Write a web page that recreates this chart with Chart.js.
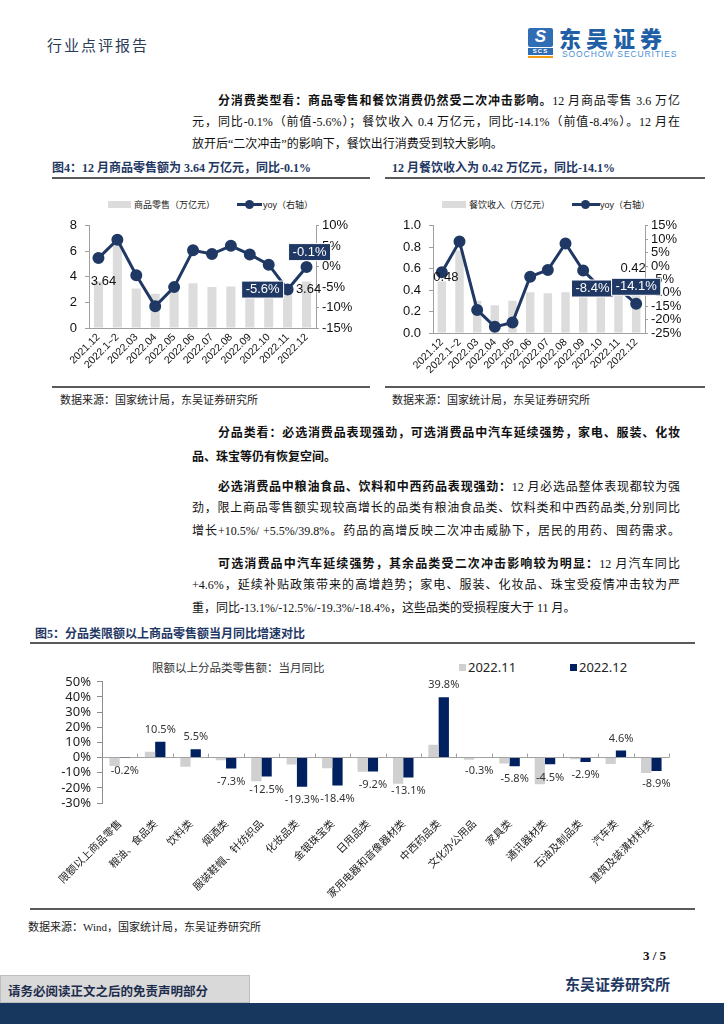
<!DOCTYPE html>
<html lang="zh-CN">
<head>
<meta charset="utf-8">
<title>行业点评报告</title>
<script src="https://cdn.jsdelivr.net/npm/chart.js@4.4.1/dist/chart.umd.min.js"></script>
<style>
  * { margin: 0; padding: 0; box-sizing: border-box; }
  body { width: 724px; height: 1024px; position: relative; background: #fff; overflow: hidden;
         font-family: 'Liberation Serif', 'Noto Sans CJK SC', serif; color: #111; }
  .abs { position: absolute; white-space: nowrap; }
  .ln { position: absolute; left: 192px; width: 488px; height: 23px; line-height: 23px; font-size: 12px;
        text-align: justify; text-align-last: justify; }
  .ln.first { left: 218px; width: 462px; }
  .ln.end { text-align-last: left; }
  .ln b { font-family: 'Noto Sans CJK SC', sans-serif; font-weight: 700; }
  .ftitle { font-size: 12px; font-weight: bold; color: #1f3864; font-family: 'Liberation Serif', 'Noto Sans CJK SC', serif; }
  .rule { position: absolute; height: 2px; background: #5a5a5a; }
  .src { font-size: 11px; color: #222; }
  .lg { font-family: 'Liberation Sans', 'Noto Sans CJK SC', sans-serif; font-size: 9px; color: #222; }
  canvas { position: absolute; }
</style>
</head>
<body>

<!-- 页眉 -->
<div class="abs" style="left:47px; top:34px; font-size:15px; letter-spacing:2px; color:#2b3a55;">行业点评报告</div>
<div class="abs" style="left:528px; top:28px; width:25px; height:19px; background:#2f6db5; border-radius:2px;"></div>
<div class="abs" style="left:528px; top:26px; width:25px; height:21px; color:#fff; font:italic 900 17px/21px 'Liberation Sans', sans-serif; text-align:center;">S</div>
<div class="abs" style="left:528px; top:48px; width:25px; height:7px; background:#2f6db5; color:#fff; font:bold 6px/7px 'Liberation Sans', sans-serif; text-align:center; letter-spacing:1px;">SCS</div>
<div class="abs" style="left:528px; top:56px; width:25px; height:2px; background:#f39c12;"></div>
<div class="abs" style="left:559px; top:24px; font:900 22px/26px 'Noto Sans CJK SC', sans-serif; letter-spacing:5px; color:#1f5fa6;">东吴证券</div>
<div class="abs" style="left:562px; top:49px; font:8.5px/10px 'Liberation Sans', sans-serif; letter-spacing:0.9px; color:#4a8fd6;">SOOCHOW SECURITIES</div>

<!-- 正文 1 -->
<div class="ln first" style="top:88px;"><b>分消费类型看：商品零售和餐饮消费仍然受二次冲击影响。</b>12 月商品零售 3.6 万亿</div>
<div class="ln" style="top:111px;">元，同比-0.1%（前值-5.6%）；餐饮收入 0.4 万亿元，同比-14.1%（前值-8.4%）。12 月在</div>
<div class="ln end" style="top:133px;">放开后“二次冲击”的影响下，餐饮出行消费受到较大影响。</div>

<!-- 图4 / 餐饮 -->
<div class="abs ftitle" style="left:52px; top:158px;">图4：12 月商品零售额为 3.64 万亿元，同比-0.1%</div>
<div class="rule" style="left:52px; top:177px; width:318px;"></div>
<div class="abs ftitle" style="left:392px; top:158px;">12 月餐饮收入为 0.42 万亿元，同比-14.1%</div>
<div class="rule" style="left:385px; top:177px; width:320px;"></div>

<div class="abs" style="left:108px; top:201px; width:23px; height:7px; background:#dcdcdc;"></div>
<div class="abs lg" style="left:134px; top:198px;">商品零售（万亿元）</div>
<div class="abs" style="left:237px; top:203px; width:25px; height:3px; background:#1f3864;"></div>
<div class="abs" style="left:245px; top:200px; width:9px; height:9px; border-radius:50%; background:#1f3864;"></div>
<div class="abs lg" style="left:263px; top:198px;">yoy（右轴）</div>

<div class="abs" style="left:442px; top:201px; width:24px; height:7px; background:#dcdcdc;"></div>
<div class="abs lg" style="left:469px; top:198px;">餐饮收入（万亿元）</div>
<div class="abs" style="left:572px; top:203px; width:28px; height:3px; background:#1f3864;"></div>
<div class="abs" style="left:581px; top:200px; width:9px; height:9px; border-radius:50%; background:#1f3864;"></div>
<div class="abs lg" style="left:600px; top:198px;">yoy（右轴）</div>

<canvas id="goodsChart" width="340" height="175" style="left:40px; top:210px;"></canvas>
<canvas id="cateringChart" width="330" height="175" style="left:380px; top:210px;"></canvas>

<div class="rule" style="left:52px; top:386px; width:318px;"></div>
<div class="rule" style="left:385px; top:386px; width:320px;"></div>
<div class="abs src" style="left:60px; top:391px;">数据来源：国家统计局，东吴证券研究所</div>
<div class="abs src" style="left:392px; top:391px;">数据来源：国家统计局，东吴证券研究所</div>

<!-- 正文 2 -->
<div class="ln first" style="top:420px;"><b>分品类看：必选消费品表现强劲，可选消费品中汽车延续强势，家电、服装、化妆</b></div>
<div class="ln end" style="top:444px;"><b>品、珠宝等仍有恢复空间。</b></div>

<div class="ln first" style="top:474px;"><b>必选消费品中粮油食品、饮料和中西药品表现强劲：</b>12 月必选品整体表现都较为强</div>
<div class="ln" style="top:497px;">劲，限上商品零售额实现较高增长的品类有粮油食品类、饮料类和中西药品类,分别同比</div>
<div class="ln" style="top:520px;">增长+10.5%/ +5.5%/39.8%。药品的高增反映二次冲击威胁下，居民的用药、囤药需求。</div>

<div class="ln first" style="top:551px;"><b>可选消费品中汽车延续强势，其余品类受二次冲击影响较为明显：</b>12 月汽车同比</div>
<div class="ln" style="top:574px;">+4.6%，延续补贴政策带来的高增趋势；家电、服装、化妆品、珠宝受疫情冲击较为严</div>
<div class="ln end" style="top:597px;">重，同比-13.1%/-12.5%/-19.3%/-18.4%，这些品类的受损程度大于 11 月。</div>

<!-- 图5 -->
<div class="abs ftitle" style="left:35px; top:624px;">图5：分品类限额以上商品零售额当月同比增速对比</div>
<div class="rule" style="left:30px; top:642px; width:665px;"></div>
<div class="abs" style="left:152px; top:659px; font:11.5px 'Noto Sans CJK SC', sans-serif; color:#333;">限额以上分品类零售额：当月同比</div>
<div class="abs" style="left:459px; top:664px; width:7px; height:7px; background:#d0d0d0;"></div>
<div class="abs" style="left:468px; top:658px; font:13px 'Noto Sans', sans-serif; color:#222;">2022.11</div>
<div class="abs" style="left:570px; top:664px; width:7px; height:7px; background:#002060;"></div>
<div class="abs" style="left:579px; top:658px; font:13px 'Noto Sans', sans-serif; color:#222;">2022.12</div>

<canvas id="categoryChart" width="660" height="236" style="left:30px; top:668px;"></canvas>

<div class="rule" style="left:30px; top:908px; width:665px;"></div>
<div class="abs src" style="left:28px; top:918px;">数据来源：Wind，国家统计局，东吴证券研究所</div>

<!-- 页脚 -->
<div class="abs" style="left:643px; top:948px; font:bold 13px 'Liberation Serif', serif;">3 / 5</div>
<div class="abs" style="left:565px; top:973px; font:bold 15px 'Noto Sans CJK SC', sans-serif; color:#1f3864;">东吴证券研究所</div>
<div class="abs" style="left:0; top:975px; width:250px; height:28px; background:#d9d9d9; border:1px solid #bdbdbd;"></div>
<div class="abs" style="left:8px; top:981px; font:bold 12.5px 'Noto Sans CJK SC', sans-serif; color:#1f2d4d;">请务必阅读正文之后的免责声明部分</div>
<div class="abs" style="left:0; top:1003px; width:724px; height:21px; background:#17375e;"></div>

<script>
// 图4：商品零售
const months = ['2021.12', '2022.1~2', '2022.03', '2022.04', '2022.05', '2022.06',
                '2022.07', '2022.08', '2022.09', '2022.10', '2022.11', '2022.12'];
const goodsRetail = [3.64, 6.88, 3.10, 2.69, 3.00, 3.50, 3.20, 3.25, 3.30, 3.30, 3.40, 3.64];
const goodsYoy = [2.1, 6.6, -2.1, -9.7, -5.0, 4.0, 3.1, 5.1, 3.0, 0.5, -5.6, -0.1];

// 餐饮收入
const cateringIncome = [0.48, 0.77, 0.30, 0.26, 0.30, 0.38, 0.37, 0.38, 0.38, 0.37, 0.36, 0.42];
const cateringYoy = [-2.3, 9.1, -16.4, -22.7, -21.1, -4.0, -1.5, 8.4, -1.7, -8.1, -8.4, -14.1];

// 图5：分品类当月同比
const categories = ['限额以上商品零售', '粮油、食品类', '饮料类', '烟酒类', '服装鞋帽、针纺织品',
                    '化妆品类', '金银珠宝类', '日用品类', '家用电器和音像器材类', '中西药品类',
                    '文化办公用品', '家具类', '通讯器材类', '石油及制品类', '汽车类', '建筑及装潢材料类'];
const yoyNov = [-5.6, 3.8, -6.1, -1.7, -15.6, -4.6, -7.1, -9.3, -17.3, 8.4, -1.5, -4.0, -17.7, -1.2, -4.2, -10.2];
const yoyDec = [-0.2, 10.5, 5.5, -7.3, -12.5, -19.3, -18.4, -9.2, -13.1, 39.8, -0.3, -5.8, -4.5, -2.9, 4.6, -8.9];

const NAVY = '#1f3864';
const DEEP = '#002060';
const AXIS = '#a0a0a0';
const SANS = "'Liberation Sans', 'Noto Sans CJK SC', sans-serif";

// 在指定数据点旁写数值（可选深蓝底框）
const markLabels = {
    id: 'markLabels',
    afterDatasetsDraw(chart, args, opts) {
        const ctx = chart.ctx;
        (opts.items || []).forEach(it => {
            const el = chart.getDatasetMeta(it.dataset).data[it.index];
            const v = chart.data.datasets[it.dataset].data[it.index];
            const text = it.fmt(v);
            const x = el.x + (it.dx || 0);
            const y = el.y + (it.dy || 0);
            ctx.save();
            ctx.font = opts.font;
            ctx.textAlign = 'center';
            ctx.textBaseline = 'middle';
            if (it.box) {
                const w = ctx.measureText(text).width + 8;
                ctx.fillStyle = NAVY;
                ctx.fillRect(x - w / 2, y - 8.5, w, 17);
                ctx.strokeStyle = '#ffffff';
                ctx.lineWidth = 1;
                ctx.strokeRect(x - w / 2, y - 8.5, w, 17);
                ctx.fillStyle = '#ffffff';
            } else {
                ctx.fillStyle = '#111';
            }
            ctx.fillText(text, x, y);
            ctx.restore();
        });
    }
};

// 图5 的零轴与分类刻度、12 月数值
const zeroAxis = {
    id: 'zeroAxis',
    beforeDatasetsDraw(chart) {
        const { ctx, chartArea, scales } = chart;
        const y0 = scales.y.getPixelForValue(0);
        const step = (chartArea.right - chartArea.left) / categories.length;
        ctx.save();
        ctx.strokeStyle = AXIS;
        ctx.lineWidth = 1;
        ctx.beginPath();
        ctx.moveTo(chartArea.left, y0);
        ctx.lineTo(chartArea.right, y0);
        for (let i = 1; i <= categories.length; i++) {
            const x = Math.round(chartArea.left + step * i) + 0.5;
            ctx.moveTo(x, y0);
            ctx.lineTo(x, y0 - 4);
        }
        ctx.stroke();
        ctx.restore();
    },
    afterDatasetsDraw(chart) {
        const ctx = chart.ctx;
        const meta = chart.getDatasetMeta(1);
        ctx.save();
        ctx.font = "11px 'Noto Sans', sans-serif";
        ctx.fillStyle = '#333';
        ctx.textAlign = 'center';
        ctx.textBaseline = 'middle';
        yoyDec.forEach((v, i) => {
            const el = meta.data[i];
            ctx.fillText(v.toFixed(1) + '%', el.x, v >= 0 ? el.y - 12 : el.y + 13);
        });
        ctx.restore();
    }
};

function comboConfig(barLabel, bars, yoy, yMax, yStep, y1Min, y1Max, leftW, rightW, bottomH, leftFmt, items) {
    return {
        type: 'bar',
        data: {
            labels: months,
            datasets: [
                { type: 'bar', label: barLabel, data: bars, yAxisID: 'y', backgroundColor: '#dcdcdc',
                  barPercentage: 0.48, categoryPercentage: 1, order: 1 },
                { type: 'line', label: 'yoy（右轴）', data: yoy, yAxisID: 'y1', borderColor: NAVY,
                  backgroundColor: NAVY, borderWidth: 3, pointRadius: 4.5, pointBackgroundColor: NAVY,
                  tension: 0, order: 0 }
            ]
        },
        options: {
            responsive: false,
            animation: false,
            layout: { padding: { top: 9 } },
            plugins: {
                legend: { display: false },
                tooltip: { enabled: false },
                markLabels: { font: '13px ' + SANS, items: items }
            },
            scales: {
                x: {
                    grid: { drawOnChartArea: false, drawTicks: false },
                    border: { color: AXIS },
                    ticks: { autoSkip: false, minRotation: 45, maxRotation: 45, padding: 3, color: '#111',
                             font: { family: SANS, size: 10.5 } },
                    afterFit: s => { s.height = bottomH; }
                },
                y: {
                    position: 'left', min: 0, max: yMax,
                    grid: { drawOnChartArea: false, tickLength: 4, color: AXIS },
                    border: { color: AXIS },
                    ticks: { autoSkip: false, stepSize: yStep, padding: 8, color: '#111',
                             font: { family: SANS, size: 13 }, callback: leftFmt },
                    afterFit: s => { s.width = leftW; }
                },
                y1: {
                    position: 'right', min: y1Min, max: y1Max,
                    grid: { drawOnChartArea: false, tickLength: 3, color: AXIS },
                    border: { color: AXIS },
                    ticks: { autoSkip: false, stepSize: 5, padding: 3, color: '#111',
                             font: { family: SANS, size: 13 }, callback: v => v + '%' },
                    afterFit: s => { s.width = rightW; }
                }
            }
        },
        plugins: [markLabels]
    };
}

new Chart(document.getElementById('goodsChart'), comboConfig(
    '商品零售（万亿元）', goodsRetail, goodsYoy, 8, 2, -15, 10, 49, 64, 57, v => v,
    [
        { dataset: 0, index: 0, dx: 5, dy: 0, fmt: v => v.toFixed(2) },
        { dataset: 0, index: 11, dx: 2, dy: 8, fmt: v => v.toFixed(2) },
        { dataset: 1, index: 10, dx: -25, dy: 0, box: true, fmt: v => v.toFixed(1) + '%' },
        { dataset: 1, index: 11, dx: 3, dy: -15, box: true, fmt: v => v.toFixed(1) + '%' }
    ]
));

new Chart(document.getElementById('cateringChart'), comboConfig(
    '餐饮收入（万亿元）', cateringIncome, cateringYoy, 1, 0.2, -25, 15, 53, 65, 52, v => v.toFixed(1),
    [
        { dataset: 0, index: 0, dx: 4, dy: -4, fmt: v => v.toFixed(2) },
        { dataset: 0, index: 11, dx: -3, dy: -20, fmt: v => v.toFixed(2) },
        { dataset: 1, index: 10, dx: -26, dy: 0, box: true, fmt: v => v.toFixed(1) + '%' },
        { dataset: 1, index: 11, dx: 0, dy: -17, box: true, fmt: v => v.toFixed(1) + '%' }
    ]
));

new Chart(document.getElementById('categoryChart'), {
    type: 'bar',
    data: {
        labels: categories,
        datasets: [
            { label: '2022.11', data: yoyNov, backgroundColor: '#d0d0d0', barPercentage: 1, categoryPercentage: 0.58 },
            { label: '2022.12', data: yoyDec, backgroundColor: DEEP, barPercentage: 1, categoryPercentage: 0.58 }
        ]
    },
    options: {
        responsive: false,
        animation: false,
        layout: { padding: { top: 9, right: 21 } },
        plugins: { legend: { display: false }, tooltip: { enabled: false } },
        scales: {
            x: {
                grid: { display: false },
                border: { display: false },
                ticks: { autoSkip: false, minRotation: 45, maxRotation: 45, padding: 6, color: '#222',
                         font: { family: "'Noto Sans CJK SC', sans-serif", size: 10.5 } },
                afterFit: s => { s.height = 101; }
            },
            y: {
                min: -30, max: 50,
                grid: { drawOnChartArea: false, tickLength: 5, color: '#8c8c8c' },
                border: { color: '#8c8c8c' },
                ticks: { autoSkip: false, stepSize: 10, padding: 6, color: '#222',
                         font: { family: "'Noto Sans', sans-serif", size: 13 }, callback: v => v + '%' },
                afterFit: s => { s.width = 72; }
            }
        }
    },
    plugins: [zeroAxis]
});
</script>
</body>
</html>
